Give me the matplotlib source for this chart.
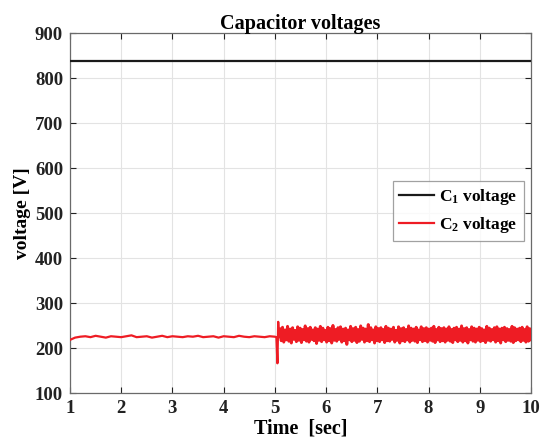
import numpy as np
import matplotlib
matplotlib.use("Agg")
import matplotlib.pyplot as plt

# ---------------- data ----------------
c1_time = [1.0, 2.5, 4.0, 5.5, 7.0, 8.5, 10.0]
c1_volt = [838.5, 838.5, 838.5, 838.5, 838.5, 838.5, 838.5]

c2_pre_volt = [219, 224, 226, 227, 225, 228, 226, 224, 227, 226,
               225, 227, 229, 225, 226, 227, 224, 226, 228, 225,
               227, 226, 225, 227, 226, 228, 225, 226, 227, 224,
               227, 226, 225, 228, 226, 225, 227, 226, 225, 227, 226]

c2_step_time = [5.03, 5.05, 5.065, 5.08]
c2_step_volt = [225, 167, 259, 226]

c2_post_volt = [244, 217, 247, 214, 241, 219, 249, 216, 243, 212,
                246, 220, 240, 215, 248, 218, 245, 213, 242, 219,
                250, 216, 244, 214, 247, 220, 241, 217, 246, 211,
                243, 218, 249, 215, 245, 219, 240, 214, 247, 217,
                244, 212, 251, 218, 242, 216, 246, 220, 248, 214,
                243, 217, 245, 209, 241, 219, 249, 215, 244, 218,
                247, 213, 242, 216, 250, 220, 245, 214, 243, 217,
                253, 215, 246, 219, 241, 212, 248, 217, 244, 215,
                246, 219, 242, 213, 249, 217, 245, 216, 243, 220,
                247, 214, 240, 218, 248, 212, 244, 217, 246, 215,
                242, 219, 250, 214, 245, 218, 243, 216, 247, 213,
                241, 219, 248, 215, 244, 217, 246, 214, 243, 218,
                245, 216, 249, 213, 242, 219, 247, 215, 244, 217,
                246, 214, 243, 218, 248, 216, 242, 213, 245, 219,
                247, 215, 243, 218, 250, 214, 244, 217, 246, 212,
                242, 219, 248, 216, 245, 214, 243, 218, 247, 215,
                244, 217, 241, 213, 249, 218, 245, 216, 242, 219,
                246, 214, 248, 217, 243, 212, 245, 219, 247, 215,
                244, 218, 242, 216, 249, 213, 246, 217, 243, 219,
                245, 215, 247, 218, 242, 214, 248, 216, 244, 219]

x_ticks = [1, 2, 3, 4, 5, 6, 7, 8, 9, 10]
y_ticks = [100, 200, 300, 400, 500, 600, 700, 800, 900]

# ---------------- build series ----------------
pre_t = np.linspace(1.0, 5.0, len(c2_pre_volt))
post_t = np.linspace(5.1, 10.0, len(c2_post_volt))
c2a_time = np.concatenate([pre_t, c2_step_time])
c2a_volt = np.concatenate([c2_pre_volt, c2_step_volt])
c2b_time = np.concatenate([c2_step_time[-1:], post_t])
c2b_volt = np.concatenate([c2_step_volt[-1:], c2_post_volt])

# ---------------- style ----------------
plt.rcParams['font.family'] = ['Liberation Serif', 'DejaVu Serif']
plt.rcParams['font.weight'] = 'bold'
plt.rcParams['mathtext.default'] = 'regular'

fig = plt.figure(figsize=(5.41, 4.48), dpi=100)
ax = fig.add_axes([0.1294, 0.1217, 0.852, 0.8046])

red = '#ee1c24'
ax.plot(c1_time, c1_volt, color='#1a1a1a', lw=1.6, label='C$_1$ voltage', zorder=3)
ax.plot(c2a_time, c2a_volt, color=red, lw=1.6, label='C$_2$ voltage', zorder=3)
ax.plot(c2b_time, c2b_volt, color=red, lw=2.1, zorder=3)

ax.set_xlim(1, 10)
ax.set_ylim(100, 900)
ax.set_xticks(x_ticks)
ax.set_yticks(y_ticks)
ax.tick_params(direction='in', length=4, width=0.8, top=True, right=True,
               labelsize=13.5, colors='#222222', pad=5)
for lab in ax.get_xticklabels() + ax.get_yticklabels():
    lab.set_fontweight('bold')

ax.grid(True, color='#e3e3e3', lw=0.8)
ax.set_axisbelow(True)
for sp in ax.spines.values():
    sp.set_color('#6a6a6a')
    sp.set_linewidth(0.9)

ax.set_title('Capacitor voltages', fontsize=14.5, fontweight='bold', pad=3)
ax.set_xlabel('Time  [sec]', fontsize=14.5, fontweight='bold', labelpad=1)
ax.set_ylabel('voltage [V]', fontsize=14, fontweight='bold', labelpad=3)

leg = ax.legend(loc='upper right', bbox_to_anchor=(0.984, 0.59),
                fontsize=12.5, frameon=True, fancybox=False,
                handlelength=2.0, handletextpad=0.3, borderpad=0.35,
                labelspacing=0.45, borderaxespad=0)
leg.get_frame().set_edgecolor('#8a8a8a')
leg.get_frame().set_linewidth(0.9)
for t in leg.get_texts():
    t.set_fontweight('bold')

fig.savefig('out.png', dpi=100)
